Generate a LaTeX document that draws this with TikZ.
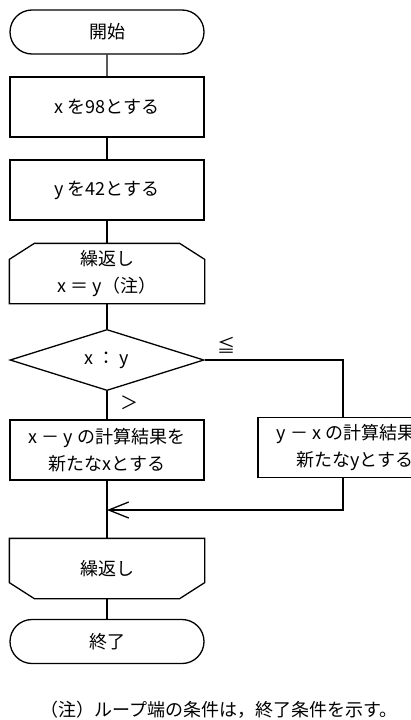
\documentclass[tikz,border=0pt]{standalone}
\usepackage{fontspec}
\setmainfont{Noto Sans CJK JP}
\usetikzlibrary{shapes.geometric,shapes.misc,arrows.meta}
\tikzset{
  base/.style={draw, line width=1.3pt, align=center, font=\fontsize{18pt}{27pt}\selectfont, inner sep=0pt},
  term/.style={base, rounded rectangle, minimum width=194pt, minimum height=44pt},
  proc/.style={base, rectangle, minimum width=194pt, minimum height=60pt},
  loopbox/.style={base, draw=none, rectangle, minimum width=194pt, minimum height=59pt},
  decision/.style={base, diamond, minimum width=194pt, minimum height=60pt},
  conn/.style={line width=1.3pt},
  outline/.style={line width=1.3pt, line join=miter},
  lbl/.style={font=\fontsize{18pt}{20pt}\selectfont, inner sep=0pt},
}
\begin{document}
\begin{tikzpicture}[x=1pt,y=-1pt]
\useasboundingbox (0,0) rectangle (411,720);
\clip (0,0) rectangle (411,720);
\node[term] (start) at (107,32) {開始};
\node[proc] (b1) at (107,107) {x を98とする};
\node[proc] (b2) at (107,190) {y を42とする};
\node[loopbox] (ls) at (107,273.5) {繰返し\\x ＝ y（注）};
\draw[outline] ([yshift=-16pt]ls.north west) -- ([xshift=25pt]ls.north west) -- ([xshift=-25pt]ls.north east) -- ([yshift=-16pt]ls.north east) -- (ls.south east) -- (ls.south west) -- cycle;
\node[decision] (d) at (107,360) {x ： y};
\node[proc] (b3) at (107,450) {x － y の計算結果を\\新たなxとする};
\node[proc] (b4) at (355,447.5) {y － x の計算結果を\\新たなyとする};
\node[loopbox] (le) at (107,568.5) {繰返し};
\draw[outline] (le.north west) -- (le.north east) -- ([yshift=16pt]le.south east) -- ([xshift=-25pt]le.south east) -- ([xshift=25pt]le.south west) -- ([yshift=16pt]le.south west) -- cycle;
\node[term] (end) at (107,641.5) {終了};
\coordinate (m) at (107,510);
\node[lbl] (gt) at (129,403) {＞};
\node[lbl] (le2) at (226,345) {≦};
\node[lbl, anchor=west] (note) at (40,710) {（注）ループ端の条件は，終了条件を示す。};
\draw[conn] (start) -- (b1);
\draw[conn] (b1) -- (b2);
\draw[conn] (b2) -- (ls);
\draw[conn] (ls) -- (d);
\draw[conn] (d) -- (b3);
\draw[conn] (d.east) -| ([xshift=-12pt]b4.north);
\draw[conn] (b3) -- (le);
\draw[conn, -{Straight Barb[length=20pt,width=16pt,line width=1.3pt]}] ([xshift=-12pt]b4.south) |- (m);
\draw[conn] (le) -- (end);
\end{tikzpicture}
\end{document}
